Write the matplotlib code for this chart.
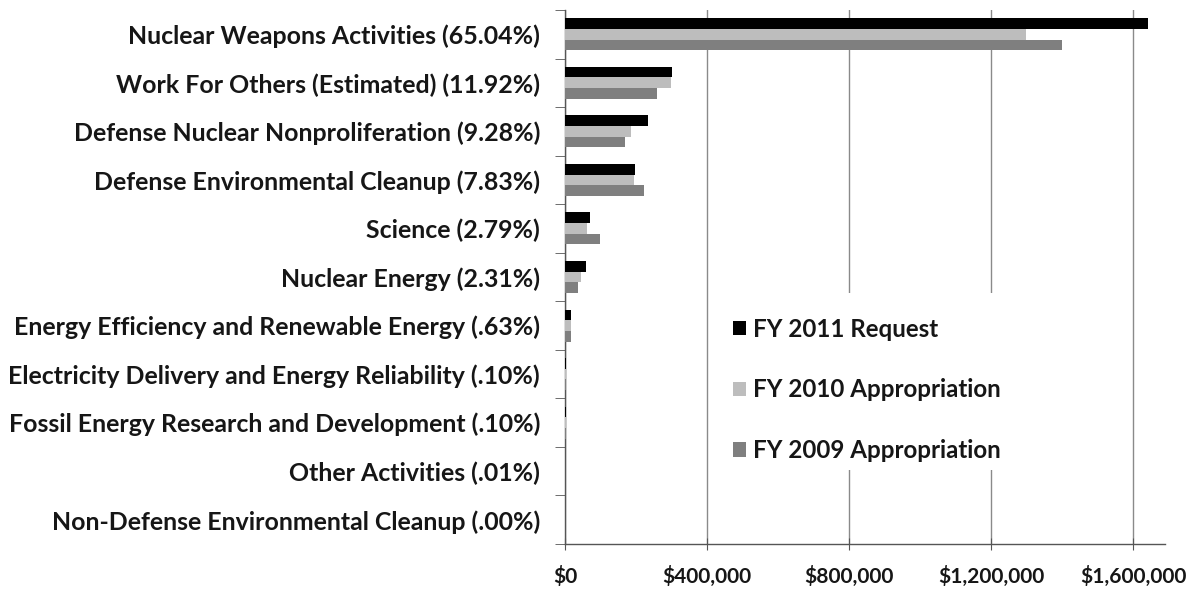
import matplotlib
matplotlib.use("Agg")
import matplotlib.pyplot as plt
import numpy as np
from matplotlib.ticker import FuncFormatter, FixedLocator
from matplotlib.patches import Rectangle

categories = [
    "Nuclear Weapons Activities (65.04%)",
    "Work For Others (Estimated) (11.92%)",
    "Defense Nuclear Nonproliferation (9.28%)",
    "Defense Environmental Cleanup (7.83%)",
    "Science (2.79%)",
    "Nuclear Energy (2.31%)",
    "Energy Efficiency and Renewable Energy (.63%)",
    "Electricity Delivery and Energy Reliability (.10%)",
    "Fossil Energy Research and Development (.10%)",
    "Other Activities (.01%)",
    "Non-Defense Environmental Cleanup (.00%)",
]
fy2011 = [1640800, 300700, 234100, 197500, 70400, 58300, 15900, 2500, 2500, 250, 50]
fy2010 = [1298600, 297200, 186000, 195000, 62000, 45000, 17000, 2500, 2500, 300, 50]
fy2009 = [1399400, 260300, 170000, 221600, 99500, 37500, 16000, 2000, 2000, 300, 50]
series_names = ["FY 2011 Request", "FY 2010 Appropriation", "FY 2009 Appropriation"]
xticks = [0, 400000, 800000, 1200000, 1600000]

plt.rcParams['font.family'] = ['Lato', 'DejaVu Sans']
plt.rcParams['font.weight'] = 'bold'

W, H = 1186, 590
fig = plt.figure(figsize=(W / 100, H / 100), dpi=100)
left, right, top, bottom = 565, 1165, 10, 544
ax = fig.add_axes([left / W, (H - bottom) / H, (right - left) / W, (bottom - top) / H])

n = len(categories)
y = np.arange(n)
h = 0.22
colors = ["#000000", "#bdbdbd", "#7f7f7f"]
for i, (vals, name, c) in enumerate(zip([fy2011, fy2010, fy2009], series_names, colors)):
    ax.barh(y + (i - 1) * h, vals, height=h, color=c, label=name, zorder=3)

ax.set_ylim(n - 0.5, -0.5)
ax.set_xlim(0, 1690000)

txtc = '#161616'
ax.set_yticks(y)
ax.set_yticklabels(categories, fontsize=17.9, fontweight='bold', color=txtc)
ax.tick_params(axis='y', which='major', length=0, pad=18)
ax.yaxis.set_minor_locator(FixedLocator(np.arange(-0.5, n, 1.0)))
ax.tick_params(axis='y', which='minor', length=7, direction='out', color='#555555')

ax.set_xticks(xticks)
ax.xaxis.set_major_formatter(FuncFormatter(lambda v, p: "${:,.0f}".format(v)))
ax.tick_params(axis='x', length=8, direction='inout', color='#555555', pad=12,
               labelsize=15, labelcolor=txtc)
for lab in ax.get_xticklabels():
    lab.set_fontweight('bold')

ax.grid(axis='x', color='#8a8a8a', linewidth=1.0, zorder=0)
ax.set_axisbelow(True)
for s in ['top', 'right']:
    ax.spines[s].set_visible(False)
for s in ['left', 'bottom']:
    ax.spines[s].set_color('#555555')
    ax.spines[s].set_linewidth(1.0)

# white legend area that hides the gridlines
def fx(px):
    return (px - left) / (right - left)
def fy(py):
    return (bottom - py) / (bottom - top)
ax.add_patch(Rectangle((fx(725), fy(470)), fx(1012) - fx(725), fy(293) - fy(470),
                       transform=ax.transAxes, facecolor='white', edgecolor='none', zorder=1))

leg = ax.legend(loc='upper left', bbox_to_anchor=(fx(711), fy(296)),
                frameon=False, handlelength=0.55, handleheight=0.55,
                handletextpad=0.3, labelspacing=1.56, prop={'weight': 'bold', 'size': 17.4})
leg.set_zorder(5)
for t in leg.get_texts():
    t.set_color(txtc)

fig.savefig("out.png", dpi=100, facecolor='white')
